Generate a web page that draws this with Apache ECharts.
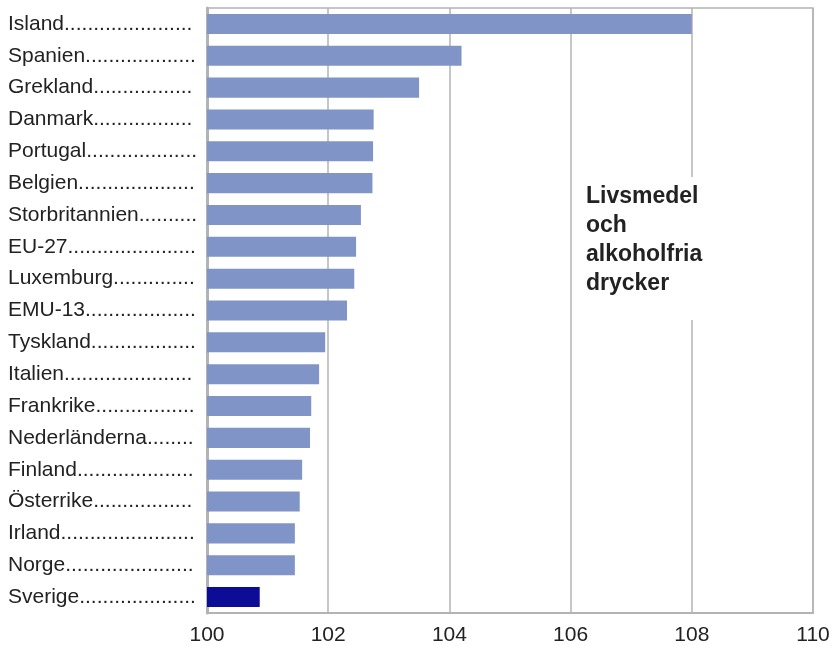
<!DOCTYPE html>
<html><head><meta charset="utf-8">
<script src="https://cdn.jsdelivr.net/npm/echarts@6/dist/echarts.min.js"></script>
<style>html,body{margin:0;padding:0;background:#fff}#c{width:834px;height:646px}</style>
</head><body><div id="c"></div>
<script>
const countries = ["Island","Spanien","Grekland","Danmark","Portugal","Belgien","Storbritannien","EU-27","Luxemburg","EMU-13","Tyskland","Italien","Frankrike","Nederländerna","Finland","Österrike","Irland","Norge","Sverige"];
const values = [108.0,104.2,103.5,102.75,102.74,102.73,102.54,102.46,102.43,102.31,101.95,101.85,101.72,101.70,101.57,101.53,101.45,101.45,100.87];
const highlight = "Sverige";
const xTicks = [100,102,104,106,108,110];
const annotation = ["Livsmedel","och","alkoholfria","drycker"];

const FAMILY = '"Liberation Sans", Arial, sans-serif';
const FS = 21;
const ctx = document.createElement('canvas').getContext('2d');
ctx.font = FS + 'px ' + FAMILY;
function pad(name){
  let s = name;
  while (ctx.measureText(s + '.').width <= 190) s += '.';
  return s;
}

const chart = echarts.init(document.getElementById('c'));
chart.setOption({
  animation: false,
  grid: {left: 207, right: 21, top: 8, bottom: 33, show: true, borderColor: '#b3b3b3', borderWidth: 1.5},
  xAxis: {
    type: 'value', min: xTicks[0], max: xTicks[xTicks.length-1], interval: 2,
    axisLine: {show: true, lineStyle: {color: '#b3b3b3', width: 2}},
    axisTick: {show: false},
    splitLine: {show: true, lineStyle: {color: '#b3b3b3', width: 1.5}},
    axisLabel: {color: '#222', fontSize: FS, fontFamily: FAMILY, margin: 12}
  },
  yAxis: {
    type: 'category', data: countries, inverse: true,
    axisLine: {show: true, lineStyle: {color: '#b3b3b3', width: 3}},
    axisTick: {show: false},
    axisLabel: {color: '#222', fontSize: FS, fontFamily: FAMILY, align: 'left', margin: 199,
      padding: [0, 0, 13, 0], formatter: v => pad(v)}
  },
  series: [{
    type: 'bar', barCategoryGap: '37%',
    data: countries.map((c,i) => ({value: values[i], itemStyle: {color: c === highlight ? '#0c0c96' : '#8094c8'}}))
  }],
  graphic: [{
    type: 'text', left: 578, top: 177, z: 100,
    style: {
      text: annotation.join('\n'), font: 'bold 23px ' + FAMILY,
      fill: '#222', lineHeight: 29, backgroundColor: '#fff', padding: [5, 10, 22, 8]
    }
  }]
});
</script></body></html>
